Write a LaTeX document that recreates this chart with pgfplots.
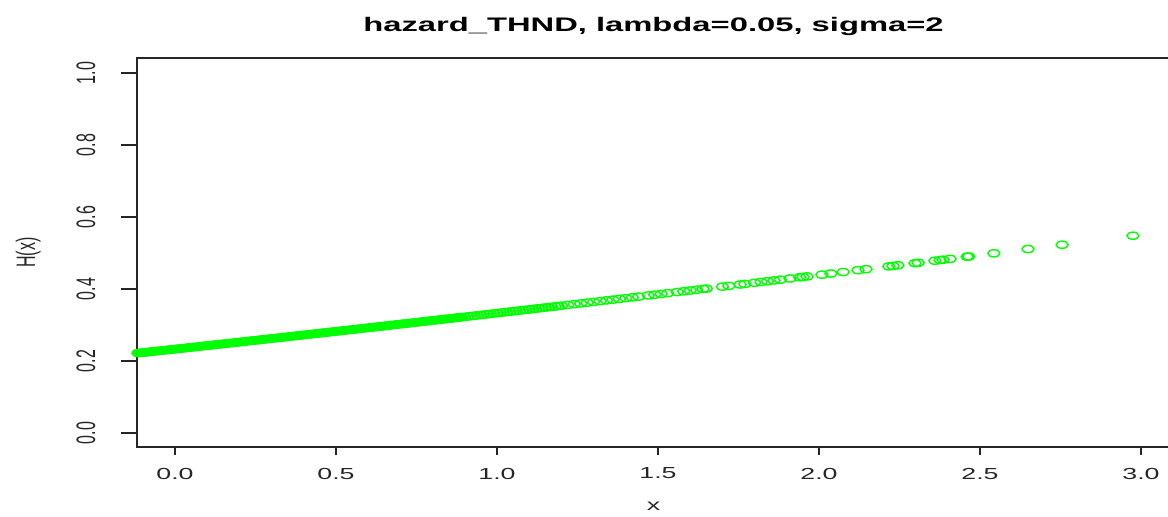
\documentclass[border=0pt]{standalone}
\usepackage{pgfplots}
\pgfplotsset{compat=1.18}
\usepackage{fontspec}
\setmainfont{Liberation Sans}
\definecolor{rgreen}{RGB}{0,255,0}

\pgfplotstableread{
x y
-0.12 0.2214
-0.11 0.2224
-0.10 0.2233
-0.09 0.2243
-0.08 0.2253
-0.07 0.2262
-0.06 0.2272
-0.05 0.2282
-0.04 0.2291
-0.03 0.2301
-0.02 0.2311
-0.01 0.2320
0.00 0.2330
0.01 0.2340
0.02 0.2349
0.03 0.2359
0.04 0.2369
0.05 0.2379
0.06 0.2388
0.07 0.2398
0.08 0.2408
0.09 0.2418
0.10 0.2427
0.11 0.2437
0.12 0.2447
0.13 0.2457
0.14 0.2466
0.15 0.2476
0.16 0.2486
0.17 0.2496
0.18 0.2506
0.19 0.2515
0.20 0.2525
0.21 0.2535
0.22 0.2545
0.23 0.2555
0.24 0.2565
0.25 0.2574
0.26 0.2584
0.27 0.2594
0.28 0.2604
0.29 0.2614
0.30 0.2624
0.31 0.2634
0.32 0.2643
0.33 0.2653
0.34 0.2663
0.35 0.2673
0.36 0.2683
0.37 0.2693
0.38 0.2703
0.39 0.2713
0.40 0.2723
0.41 0.2733
0.42 0.2743
0.43 0.2753
0.44 0.2763
0.45 0.2773
0.46 0.2783
0.47 0.2793
0.48 0.2803
0.49 0.2813
0.50 0.2823
0.51 0.2833
0.52 0.2843
0.53 0.2853
0.54 0.2863
0.55 0.2873
0.56 0.2883
0.57 0.2893
0.58 0.2903
0.59 0.2913
0.60 0.2923
0.61 0.2933
0.62 0.2943
0.63 0.2953
0.64 0.2963
0.65 0.2973
0.66 0.2983
0.67 0.2993
0.68 0.3003
0.69 0.3014
0.70 0.3024
0.71 0.3034
0.72 0.3044
0.73 0.3054
0.74 0.3064
0.75 0.3074
0.76 0.3085
0.77 0.3095
0.78 0.3105
0.79 0.3115
0.80 0.3125
0.81 0.3135
0.82 0.3146
0.83 0.3156
0.84 0.3166
0.85 0.3176
0.86 0.3186
0.87 0.3197
0.88 0.3207
0.89 0.3217
0.90 0.3227
0.92 0.3248
0.94 0.3268
0.96 0.3289
0.98 0.3309
1.00 0.3330
1.02 0.3351
1.04 0.3371
1.06 0.3392
1.08 0.3413
1.10 0.3433
1.12 0.3454
1.14 0.3475
1.16 0.3496
1.18 0.3516
1.20 0.3537
1.22 0.3558
1.24 0.3579
1.26 0.3600
1.28 0.3621
1.30 0.3642
1.32 0.3663
1.34 0.3684
1.36 0.3705
1.38 0.3726
1.40 0.3747
1.42 0.3768
1.44 0.3789
1.47 0.3821
1.49 0.3842
1.51 0.3863
1.53 0.3884
1.56 0.3916
1.58 0.3937
1.60 0.3959
1.62 0.3980
1.64 0.4001
1.65 0.4012
1.70 0.4066
1.72 0.4087
1.755 0.4125
1.77 0.4141
1.80 0.4173
1.82 0.4195
1.84 0.4216
1.86 0.4238
1.88 0.4260
1.91 0.4292
1.94 0.4325
1.95 0.4336
1.963 0.4350
2.009 0.4400
2.037 0.4430
2.075 0.4472
2.121 0.4522
2.146 0.4550
2.217 0.4628
2.230 0.4642
2.245 0.4659
2.298 0.4717
2.308 0.4729
2.360 0.4786
2.376 0.4804
2.385 0.4814
2.407 0.4839
2.460 0.4898
2.465 0.4903
2.543 0.4991
2.649 0.5110
2.755 0.5230
2.975 0.5481
}\hazard

\pgfplotstableread{
x y
-0.115 0.2219
-0.105 0.2229
-0.095 0.2238
-0.085 0.2248
-0.075 0.2258
-0.065 0.2267
-0.055 0.2277
-0.045 0.2287
-0.035 0.2296
-0.025 0.2306
-0.015 0.2316
-0.005 0.2325
0.005 0.2335
0.015 0.2345
0.025 0.2354
0.035 0.2364
0.045 0.2374
0.055 0.2384
0.065 0.2393
0.075 0.2403
0.085 0.2413
0.095 0.2423
0.105 0.2432
0.115 0.2442
0.125 0.2452
0.135 0.2462
0.145 0.2471
0.155 0.2481
0.165 0.2491
0.175 0.2501
0.185 0.2511
0.195 0.2520
0.205 0.2530
0.215 0.2540
0.225 0.2550
0.235 0.2560
0.245 0.2570
0.255 0.2579
0.265 0.2589
0.275 0.2599
0.285 0.2609
0.295 0.2619
0.305 0.2629
0.315 0.2639
0.325 0.2648
0.335 0.2658
0.345 0.2668
0.355 0.2678
0.365 0.2688
0.375 0.2698
0.385 0.2708
0.395 0.2718
0.405 0.2728
0.415 0.2738
0.425 0.2748
0.435 0.2758
0.445 0.2768
0.455 0.2778
0.465 0.2788
0.475 0.2798
0.485 0.2808
0.495 0.2818
0.505 0.2828
0.515 0.2838
0.525 0.2848
0.535 0.2858
0.545 0.2868
0.555 0.2878
0.565 0.2888
0.575 0.2898
0.585 0.2908
0.595 0.2918
0.605 0.2928
0.615 0.2938
0.625 0.2948
0.635 0.2958
0.645 0.2968
0.655 0.2978
0.665 0.2988
0.675 0.2998
0.685 0.3009
0.695 0.3019
0.705 0.3029
0.715 0.3039
0.725 0.3049
0.735 0.3059
0.745 0.3069
0.755 0.3080
0.765 0.3090
0.775 0.3100
0.785 0.3110
0.795 0.3120
0.805 0.3130
0.815 0.3141
0.825 0.3151
0.835 0.3161
0.845 0.3171
0.855 0.3181
0.865 0.3192
0.875 0.3202
0.885 0.3212
0.91 0.3238
0.93 0.3258
0.95 0.3279
0.97 0.3299
0.99 0.3320
1.01 0.3340
1.03 0.3361
1.05 0.3382
1.07 0.3402
1.09 0.3423
1.11 0.3444
1.13 0.3464
1.15 0.3485
1.17 0.3506
1.19 0.3527
}\hazardextra

\begin{document}
\begin{tikzpicture}
\begin{axis}[
    name=ax, at={(0,0)}, anchor=south west,
    scale only axis, width=516.5pt, height=194.5pt,
    xmin=-0.118, xmax=3.090, ymin=-0.0389, ymax=1.0417,
    xtick={0,0.5,1,1.5,2,2.5,3},
    xticklabels={0.0,0.5,1.0,1.5,2.0,2.5,3.0},
    ytick={0,0.2,0.4,0.6,0.8,1},
    yticklabels={0.0,0.2,0.4,0.6,0.8,1.0},
    tick align=outside, tick pos=left,
    major tick length=4pt,
    ytick style={/pgfplots/major tick length=8pt},
    axis line style={black!85, line width=0.6pt},
    every tick/.style={black!85, line width=0.6pt},
    xticklabel style={font=\fontsize{8}{9}\selectfont, text=black!85,
        anchor=center, yshift=-9.25pt, xscale=1.67},
    yticklabel style={font=\fontsize{8}{9}\selectfont, text=black!85,
        xshift=-21.5pt, rotate=90, yscale=1.67, anchor=center},
    title={hazard\_THND, lambda=0.05, sigma=2},
    every axis title/.style={at={(axis description cs:0.5,1)}, yshift=16pt,
        anchor=center, xscale=1.67, font=\bfseries\fontsize{9.8}{12}\selectfont},
    xlabel={x},
    every axis x label/.style={at={(axis description cs:0.5,0)}, yshift=-29.85pt,
        anchor=center, xscale=1.67, font=\fontsize{8}{9}\selectfont, text=black!85},
    ylabel={H(x)},
    every axis y label/.style={at={(axis description cs:0,0.5)}, xshift=-54.4pt,
        rotate=90, yscale=1.67, anchor=center, font=\fontsize{8}{9}\selectfont, text=black!85},
]
\addplot[only marks, mark=o, mark size=1.8pt, draw=rgreen,
    mark options={xscale=1.67, line width=0.7pt, draw=rgreen}]
    table[x=x, y=y] {\hazard};
\addplot[only marks, mark=o, mark size=1.8pt, draw=rgreen,
    mark options={xscale=1.67, line width=0.7pt, draw=rgreen}]
    table[x=x, y=y] {\hazardextra};
\end{axis}
\pgfresetboundingbox
\path ([shift={(-68.5pt,-34.5pt)}]ax.south west) rectangle ([shift={(515.5pt,223.5pt)}]ax.south west);
\end{tikzpicture}
\end{document}
